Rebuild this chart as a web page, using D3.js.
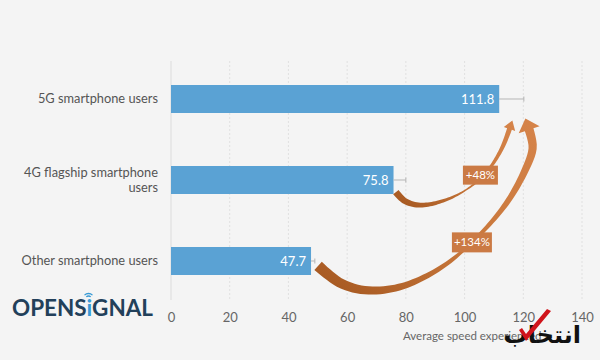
<!DOCTYPE html>
<html><head><meta charset="utf-8">
<script src="https://cdn.jsdelivr.net/npm/d3@7"></script>
<style>html,body{margin:0;padding:0;background:#f4f4f4;}svg{display:block;font-family:Lato,"Open Sans",sans-serif;}</style>
</head><body>
<svg id="c" width="600" height="360"></svg>
<script>
const categories = ["5G smartphone users", "4G flagship smartphone users", "Other smartphone users"];
const categoryLines = [["5G smartphone users"], ["4G flagship smartphone", "users"], ["Other smartphone users"]];
const values = [111.8, 75.8, 47.7];
const upperValues = [120.2, 80, 49];
const ticks = [0, 20, 40, 60, 80, 100, 120, 140];
const axisTitle = "Average speed experienced";
const changeLabels = ["+48%", "+134%"];
// arrow waypoints in data units: [speed, category position (0..2)]
const arrowSmall = [[76.6,1.15],[79.7,1.26],[84.8,1.31],[93.3,1.25],[101.8,1.09],[108.0,0.88],[112.7,0.61],[115.3,0.37]];
const arrowBig = [[50.1,2.06],[57.6,2.27],[66.1,2.36],[78.0,2.32],[91.6,2.09],[102.5,1.77],[113.8,1.31],[120.6,0.88],[123.2,0.60],[122.0,0.38]];
const labelSmallPos = [105.4, 0.94];
const labelBigPos = [102.5, 1.77];

const svg = d3.select("#c");
svg.append("rect").attr("width",600).attr("height",360).attr("fill","#f4f4f4");

const x = d3.scaleLinear().domain([0,140]).range([171,582]);
const y = d3.scalePoint().domain(categories).range([99,261]);
const yIdx = d3.scaleLinear().domain([0,2]).range([99,261]);
const barH = 28;

// gridlines
svg.append("g").selectAll("line").data(ticks.slice(1)).join("line")
  .attr("x1",d=>x(d)).attr("x2",d=>x(d)).attr("y1",61).attr("y2",300)
  .attr("stroke","#e0e0e0").attr("stroke-width",1).attr("stroke-dasharray","2,2");
svg.append("line").attr("x1",x(0)).attr("x2",x(0)).attr("y1",61).attr("y2",300)
  .attr("stroke","#dcdcdc").attr("stroke-width",1);

// axis
const ax = svg.append("g").attr("transform","translate(0,300)")
  .call(d3.axisBottom(x).tickValues(ticks).tickSize(0).tickPadding(13));
ax.select(".domain").remove();
ax.selectAll("text").attr("fill","#666").attr("font-size",13).attr("font-family","Lato, sans-serif");

svg.append("text").attr("x",403).attr("y",340).attr("font-size",11.5).attr("fill","#666").text(axisTitle);

// category labels
const cl = svg.append("g").selectAll("text").data(categories).join("text")
  .attr("x",158).attr("text-anchor","end").attr("font-size",12.8).attr("fill","#555");
cl.each(function(d,i){
  const lines = categoryLines[i];
  const t = d3.select(this);
  const y0 = y(d) + 4 - (lines.length-1)*7.5;
  lines.forEach((ln,j)=>{
    t.append("tspan").attr("x",158).attr("y",y0 + j*15).text(ln);
  });
});

// bars
svg.append("g").selectAll("rect").data(categories).join("rect")
  .attr("x",x(0)).attr("y",d=>y(d)-barH/2)
  .attr("width",(d,i)=>x(values[i])-x(0)).attr("height",barH)
  .attr("fill","#5aa2d4");

// error whiskers
const eb = svg.append("g").attr("stroke","#b5b5b5").attr("stroke-width",1);
categories.forEach((c,i)=>{
  eb.append("line").attr("x1",x(values[i])).attr("x2",x(upperValues[i])).attr("y1",y(c)).attr("y2",y(c));
  eb.append("line").attr("x1",x(upperValues[i])).attr("x2",x(upperValues[i])).attr("y1",y(c)-2.5).attr("y2",y(c)+2.5);
});

// value labels
svg.append("g").selectAll("text").data(categories).join("text")
  .attr("x",(d,i)=>x(values[i])-5).attr("y",d=>y(d)+4.5)
  .attr("text-anchor","end").attr("fill","#fff").attr("font-size",13)
  .text((d,i)=>values[i].toFixed(1));

// gradient for arrows
const defs = svg.append("defs");
const grad = defs.append("linearGradient").attr("id","ag").attr("x1","0").attr("y1","1").attr("x2","1").attr("y2","0");
grad.append("stop").attr("offset","0").attr("stop-color","#a3561f");
grad.append("stop").attr("offset","0.45").attr("stop-color","#c7763a");
grad.append("stop").attr("offset","1").attr("stop-color","#d6844a");

function drawArrow(pts, wFn, headW, headL){
  const line = d3.line().x(d=>x(d[0])).y(d=>yIdx(d[1])).curve(d3.curveCatmullRom.alpha(0.5));
  const tmp = svg.append("path").attr("d", line(pts)).attr("fill","none");
  const node = tmp.node();
  const L = node.getTotalLength();
  const N = 80;
  const left = [], right = [];
  let last, dir;
  for(let k=0;k<=N;k++){
    const s = L*k/N;
    const p = node.getPointAtLength(s);
    const q = node.getPointAtLength(Math.min(L, s+0.5));
    const r = node.getPointAtLength(Math.max(0, s-0.5));
    let dx = q.x-r.x, dy = q.y-r.y; const m = Math.hypot(dx,dy)||1; dx/=m; dy/=m;
    const nx = -dy, ny = dx;
    const w = wFn(k/N)/2;
    left.push([p.x+nx*w, p.y+ny*w]);
    right.push([p.x-nx*w, p.y-ny*w]);
    last = p; dir = [dx,dy];
  }
  tmp.remove();
  const nx = -dir[1], ny = dir[0];
  const head = [
    [last.x+nx*headW/2, last.y+ny*headW/2],
    [last.x+dir[0]*headL, last.y+dir[1]*headL],
    [last.x-nx*headW/2, last.y-ny*headW/2]
  ];
  const poly = left.concat(head, right.reverse());
  svg.append("path").attr("d","M"+poly.map(p=>p[0].toFixed(2)+","+p[1].toFixed(2)).join("L")+"Z")
    .attr("fill","url(#ag)");
}

drawArrow(arrowSmall, t=> t<0.5 ? 7-(t/0.5)*5.5 : 1.5+((t-0.5)/0.5)*3.5, 12, 9);
drawArrow(arrowBig, t=> t<0.55 ? 11-(t/0.55)*8 : 3+((t-0.55)/0.45)*6, 22, 12);

function changeBox(pos, label, w, h){
  const cx = x(pos[0]), cy = yIdx(pos[1]);
  const g = svg.append("g");
  g.append("rect").attr("x",cx-w/2).attr("y",cy-h/2).attr("width",w).attr("height",h).attr("fill","#cb7a44");
  g.append("text").attr("x",cx).attr("y",cy+4).attr("text-anchor","middle").attr("fill","#fff").attr("font-size",11.5).text(label);
}
changeBox(labelSmallPos, changeLabels[0], 35, 19);
changeBox(labelBigPos, changeLabels[1], 40, 20);

// OpenSignal logo
const logo = svg.append("g");
const lt = logo.append("text").attr("x",12).attr("y",316).attr("font-size",22).attr("font-weight",700)
  .attr("font-family","Lato, sans-serif").attr("fill","#22405a").attr("textLength",141).attr("lengthAdjust","spacingAndGlyphs");
lt.append("tspan").text("OPENS");
lt.append("tspan").attr("fill","#3a9bd5").text("i");
lt.append("tspan").text("GNAL");
const wifi = logo.append("g").attr("fill","none").attr("stroke","#3a9bd5").attr("stroke-width",1.3);
[3,5.5].forEach(r=>{
  wifi.append("path").attr("d",d3.arc()({innerRadius:r,outerRadius:r,startAngle:-0.8,endAngle:0.8})).attr("transform","translate(88.5,299)");
});

// watermark
const wm = svg.append("g");
wm.append("text").attr("x",581).attr("y",343).attr("text-anchor","end").attr("font-size",24).attr("font-weight",700)
  .attr("fill","#111").attr("font-family","DejaVu Sans, sans-serif").text("انتخاب");
wm.append("path").attr("d","M519,330 L526,341 L551,311 L547,309 L526,334 L522,328 Z").attr("fill","#d0141b");
</script>
</body></html>
